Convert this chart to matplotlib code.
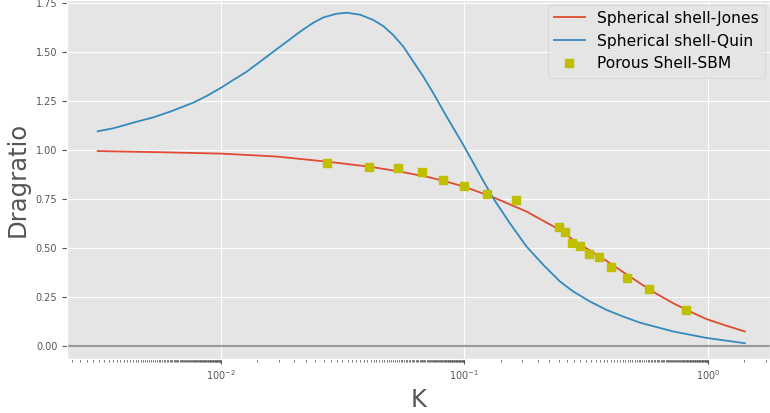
import numpy as np
import matplotlib
matplotlib.use('Agg')
import matplotlib.pyplot as plt

plt.style.use('ggplot')

# Spherical shell - Jones (log10 K, drag ratio)
logk_jones = [-5.010, -4.498, -4.000, -3.541, -3.130, -2.774, -2.528, -2.309,
              -2.145, -2.000, -1.762, -1.488, -1.378, -1.214, -1.105, -0.968,
              -0.831, -0.695, -0.557, -0.420, -0.284, -0.147, -0.010, 0.154, 0.304]
dr_jones = [0.996, 0.990, 0.983, 0.968, 0.942, 0.916, 0.891, 0.865,
            0.840, 0.814, 0.760, 0.687, 0.649, 0.593, 0.542, 0.488,
            0.435, 0.378, 0.321, 0.267, 0.219, 0.177, 0.138, 0.104, 0.075]

# Spherical shell - Quin
logk_quin = [-5.010, -4.882, -4.717, -4.553, -4.416, -4.307, -4.225, -4.115,
             -4.000, -3.896, -3.787, -3.677, -3.568, -3.458, -3.349, -3.239,
             -3.157, -3.048, -2.966, -2.856, -2.747, -2.665, -2.583, -2.500,
             -2.418, -2.336, -2.254, -2.145, -2.000, -1.871, -1.762, -1.625,
             -1.488, -1.351, -1.214, -1.105, -0.968, -0.831, -0.695, -0.557,
             -0.284, -0.010, 0.304]
dr_quin = [1.097, 1.112, 1.141, 1.168, 1.197, 1.223, 1.243, 1.277,
           1.318, 1.359, 1.401, 1.452, 1.503, 1.554, 1.605, 1.651,
           1.678, 1.697, 1.702, 1.692, 1.665, 1.634, 1.588, 1.529,
           1.452, 1.376, 1.291, 1.172, 1.019, 0.874, 0.755, 0.627,
           0.508, 0.415, 0.330, 0.279, 0.228, 0.185, 0.151, 0.120,
           0.075, 0.042, 0.015]

# Porous shell - SBM
k_sbm = [7.4e-4, 1.65e-3, 2.86e-3, 4.47e-3, 6.65e-3, 9.95e-3, 1.55e-2, 2.67e-2,
         6.0e-2, 6.7e-2, 7.7e-2, 8.9e-2, 0.105, 0.127, 0.161, 0.217, 0.327, 0.665]
dr_sbm = [0.937, 0.916, 0.910, 0.891, 0.848, 0.819, 0.777, 0.746,
          0.609, 0.582, 0.526, 0.512, 0.471, 0.454, 0.406, 0.348, 0.294, 0.184]

k_jones = 10.0 ** np.array(logk_jones)
k_quin = 10.0 ** np.array(logk_quin)

fig = plt.figure(figsize=(7.7, 4.13), dpi=100)
ax = fig.add_axes([0.087, 0.131, 0.913, 0.869])

ax.plot(k_jones, dr_jones, color='#E24A33', lw=1.3, label='Spherical shell-Jones')
ax.plot(k_quin, dr_quin, color='#348ABD', lw=1.3, label='Spherical shell-Quin')
ax.plot(k_sbm, dr_sbm, 's', color='#BFBF00', ms=5.5, label='Porous Shell-SBM')
ax.axhline(0, color='#999999', lw=1.5)

ax.set_xscale('log', base=100)
ax.set_xlim(5.47e-6, 3.24)
ax.set_ylim(-0.065, 1.767)
ax.set_yticks(np.arange(0, 1.76, 0.25))
ax.tick_params(axis='both', labelsize=7, colors='#555555')

ax.set_xlabel('K', fontsize=17.5, color='#555555')
ax.set_ylabel('Dragratio', fontsize=17.5, color='#555555')

ax.legend(loc='upper right', fontsize=11.2, borderaxespad=0.3)

fig.savefig('out.png', dpi=100)
